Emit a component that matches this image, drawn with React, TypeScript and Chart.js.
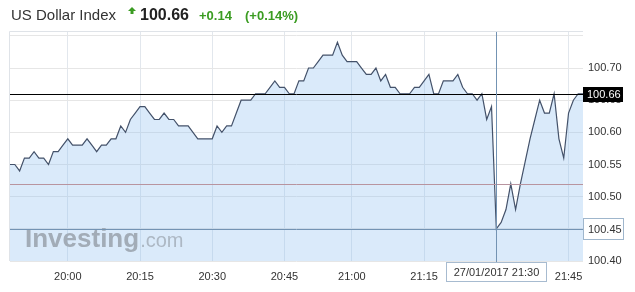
import React, { useEffect, useRef } from "react";
import { Chart, registerables } from "chart.js";

Chart.register(...registerables);

// ---- data ----
const times: string[] = (
  "19:48 19:49 19:50 19:51 19:52 19:53 19:54 19:55 19:56 19:57 19:58 19:59 " +
  "20:00 20:01 20:02 20:03 20:04 20:05 20:06 20:07 20:08 20:09 20:10 20:11 20:12 20:13 20:14 " +
  "20:15 20:16 20:17 20:18 20:19 20:20 20:21 20:22 20:23 20:24 20:25 20:26 20:27 20:28 20:29 " +
  "20:30 20:31 20:32 20:33 20:34 20:35 20:36 20:37 20:38 20:39 20:40 20:41 20:42 20:43 20:44 " +
  "20:45 20:46 20:47 20:48 20:49 20:50 20:51 20:53 20:54 20:55 20:56 20:57 20:58 20:59 " +
  "21:00 21:01 21:02 21:03 21:04 21:05 21:06 21:07 21:08 21:09 21:10 21:11 21:12 21:13 21:14 " +
  "21:15 21:16 21:17 21:18 21:19 21:20 21:21 21:22 21:23 21:24 21:25 21:26 21:27 21:28 21:29 " +
  "21:30 21:31 21:32 21:33 21:34 21:35 21:36 21:37 21:38 21:39 21:40 21:41 21:42 21:43 21:44 " +
  "21:45 21:46 21:47 21:48"
).split(" ");

const values: number[] = [
  100.55, 100.55, 100.54, 100.56, 100.56, 100.57, 100.56, 100.56, 100.55, 100.57,
  100.57, 100.58, 100.59, 100.58, 100.58, 100.58, 100.59, 100.58, 100.57, 100.58,
  100.58, 100.59, 100.59, 100.61, 100.60, 100.62, 100.63, 100.64, 100.64, 100.63,
  100.62, 100.62, 100.63, 100.62, 100.62, 100.61, 100.61, 100.61, 100.60, 100.59,
  100.59, 100.59, 100.59, 100.61, 100.60, 100.61, 100.61, 100.63, 100.65, 100.65,
  100.65, 100.66, 100.66, 100.66, 100.67, 100.68, 100.67, 100.67, 100.66, 100.66,
  100.68, 100.68, 100.70, 100.70, 100.71, 100.72, 100.72, 100.72, 100.74, 100.72,
  100.71, 100.71, 100.71, 100.70, 100.69, 100.69, 100.70, 100.68, 100.69, 100.67,
  100.67, 100.66, 100.66, 100.66, 100.67, 100.67, 100.68, 100.69, 100.66, 100.66,
  100.68, 100.68, 100.68, 100.69, 100.67, 100.66, 100.66, 100.65, 100.66, 100.62,
  100.64, 100.45, 100.46, 100.48, 100.52, 100.48, 100.52, 100.555, 100.59, 100.62,
  100.65, 100.63, 100.63, 100.66, 100.59, 100.56, 100.63, 100.65, 100.66, 100.66,
];

const yTicks: number[] = [100.4, 100.45, 100.5, 100.55, 100.6, 100.65, 100.7, 100.75];
const yLabelMax = 100.7;
const xTickTimes: string[] = ["20:00", "20:15", "20:30", "20:45", "21:00", "21:15", "21:30", "21:45"];
const yMin = 100.4;
const yMax = 100.756;

const lastPrice = 100.66;
const prevClose = 100.52;
const crossTime = "21:30";
const crossValue = 100.45;
const crossLabel = "27/01/2017 21:30";

const titleName = "US Dollar Index";
const titlePrice = "100.66";
const titleChange = "+0.14";
const titlePct = "(+0.14%)";

const FONT = 'Arial, "Liberation Sans", sans-serif';
const GREEN = "#3b9c22";

const overlay = {
  id: "overlay",
  beforeDatasetsDraw(chart: any) {
    const { ctx, chartArea: a } = chart;
    ctx.save();
    ctx.strokeStyle = "#dfe3e8";
    ctx.lineWidth = 1;
    ctx.beginPath();
    ctx.moveTo(a.left - 0.5, a.bottom);
    ctx.lineTo(a.left - 0.5, a.top - 0.5);
    ctx.lineTo(a.right, a.top - 0.5);
    ctx.stroke();
    ctx.restore();
  },
  afterDatasetsDraw(chart: any) {
    const { ctx, chartArea: a, scales } = chart;
    const y = scales.y;
    const x = scales.x;
    ctx.save();
    // watermark
    ctx.textBaseline = "alphabetic";
    ctx.textAlign = "left";
    ctx.font = `bold 26px ${FONT}`;
    ctx.fillStyle = "#a2acb7";
    const wx = a.left + 15;
    const wy = a.bottom - 14;
    ctx.fillText("Investing", wx, wy);
    const w = ctx.measureText("Investing").width;
    ctx.font = `20px ${FONT}`;
    ctx.fillStyle = "#adb8c4";
    ctx.fillText(".com", wx + w + 1, wy);

    const hline = (v: number, color: string) => {
      const py = Math.round(y.getPixelForValue(v)) + 0.5;
      ctx.strokeStyle = color;
      ctx.lineWidth = 1;
      ctx.beginPath();
      ctx.moveTo(a.left, py);
      ctx.lineTo(a.right, py);
      ctx.stroke();
    };
    hline(prevClose, "#b8949f");
    hline(crossValue, "#7393b3");
    hline(lastPrice, "#000000");

    const cx = Math.round(x.getPixelForValue(times.indexOf(crossTime))) + 0.5;
    ctx.strokeStyle = "#7393b3";
    ctx.beginPath();
    ctx.moveTo(cx, a.top);
    ctx.lineTo(cx, a.bottom + 2);
    ctx.stroke();
    ctx.restore();
  },
  afterDraw(chart: any) {
    const { ctx, chartArea: a, scales } = chart;
    const y = scales.y;
    const x = scales.x;
    ctx.save();
    ctx.font = `11px ${FONT}`;
    ctx.textBaseline = "middle";
    // last price box
    const ly = Math.round(y.getPixelForValue(lastPrice));
    ctx.fillStyle = "#000";
    ctx.fillRect(a.right, ly - 7, 40, 15);
    ctx.fillStyle = "#fff";
    ctx.textAlign = "left";
    ctx.fillText(lastPrice.toFixed(2), a.right + 4, ly + 0.5);
    // cross value box
    const cy = Math.round(y.getPixelForValue(crossValue));
    ctx.fillStyle = "#fff";
    ctx.fillRect(a.right + 0.5, cy - 10.5, 40, 21);
    ctx.strokeStyle = "#9fb6cc";
    ctx.lineWidth = 1;
    ctx.strokeRect(a.right + 0.5, cy - 10.5, 40, 21);
    ctx.fillStyle = "#333";
    ctx.fillText(crossValue.toFixed(2), a.right + 5, cy + 0.5);
    // cross time box
    const cx = Math.round(x.getPixelForValue(times.indexOf(crossTime)));
    const bw = 100;
    const bx = cx - 49.5;
    const by = a.bottom + 1.5;
    ctx.fillStyle = "#fff";
    ctx.fillRect(bx, by, bw, 19);
    ctx.strokeStyle = "#a7bbd0";
    ctx.strokeRect(bx, by, bw, 19);
    ctx.fillStyle = "#333";
    ctx.textAlign = "center";
    ctx.fillText(crossLabel, bx + bw / 2, by + 10);
    ctx.restore();
  },
};

export default function App() {
  const ref = useRef<HTMLCanvasElement | null>(null);
  useEffect(() => {
    if (!ref.current) return;
    const chart = new Chart(ref.current, {
      type: "line",
      data: {
        labels: times,
        datasets: [
          {
            data: values,
            borderColor: "#44526a",
            borderWidth: 1.2,
            pointRadius: 0,
            tension: 0,
            fill: "start",
            backgroundColor: "rgba(144,190,240,0.33)",
          },
        ],
      },
      options: {
        responsive: false,
        animation: false,
        devicePixelRatio: 1,
        layout: { padding: { left: 10, top: 32, right: 0, bottom: 0 } },
        plugins: { legend: { display: false }, tooltip: { enabled: false } },
        scales: {
          x: {
            type: "category",
            offset: false,
            grid: { color: "#e2e7ed", drawTicks: false },
            border: { display: false },
            ticks: {
              autoSkip: false,
              maxRotation: 0,
              padding: 9,
              color: "#333",
              font: { size: 11, family: FONT },
              callback: (v: any) => (times[v] === crossTime ? "" : times[v]),
            },
            afterBuildTicks: (s: any) => {
              s.ticks = times
                .map((t, i) => ({ value: i, t }))
                .filter((o) => xTickTimes.includes(o.t))
                .map((o) => ({ value: o.value }));
            },
            afterFit: (s: any) => {
              s.height = 31;
            },
          },
          y: {
            position: "right",
            min: yMin,
            max: yMax,
            grid: { color: "#e6e6e6", drawTicks: false },
            border: { display: false },
            ticks: {
              padding: 5,
              color: "#333",
              font: { size: 11, family: FONT },
              callback: (v: any) => (Number(v) > yLabelMax + 0.001 ? "" : Number(v).toFixed(2)),
            },
            afterBuildTicks: (s: any) => {
              s.ticks = yTicks.map((v) => ({ value: v }));
            },
            afterFit: (s: any) => {
              s.width = 52;
            },
          },
        },
      },
      plugins: [overlay],
    });
    return () => chart.destroy();
  }, []);

  const base: React.CSSProperties = {
    position: "absolute",
    whiteSpace: "nowrap",
    lineHeight: 1,
    fontFamily: FONT,
  };

  return (
    <div style={{ position: "fixed", left: 0, top: 0, width: 635, height: 292, background: "#fff", overflow: "hidden" }}>
      <canvas ref={ref} width={635} height={292} style={{ position: "absolute", left: 0, top: 0 }} />
      <div style={{ ...base, left: 11, top: 7.3, fontSize: 15, color: "#333" }}>{titleName}</div>
      <svg style={{ position: "absolute", left: 128, top: 7 }} width={8} height={8} viewBox="0 0 8 8">
        <polygon points="4,0 8,4 5.5,4 5.5,7 2.5,7 2.5,4 0,4" fill={GREEN} />
      </svg>
      <div style={{ ...base, left: 140, top: 6.5, fontSize: 16, fontWeight: "bold", color: "#222" }}>{titlePrice}</div>
      <div style={{ ...base, left: 199, top: 9, fontSize: 13, fontWeight: "bold", color: GREEN }}>{titleChange}</div>
      <div style={{ ...base, left: 245, top: 9, fontSize: 13, fontWeight: "bold", color: GREEN }}>{titlePct}</div>
    </div>
  );
}
